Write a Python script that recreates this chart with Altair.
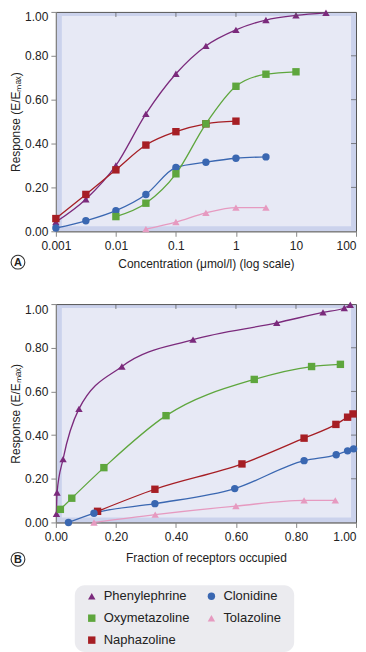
import altair as alt
import pandas as pd

# ---------------- data ----------------
drugs = ["Phenylephrine", "Clonidine", "Oxymetazoline", "Tolazoline", "Naphazoline"]
drug_colors = ["#7b2a7c", "#3a67b1", "#5ea63d", "#e69ac0", "#a61e24"]
drug_shapes = ["triangle-up", "circle", "square", "triangle-up", "square"]
legend_col = [0, 1, 0, 1, 0]
legend_row = [0, 0, 1, 1, 2]

# Panel A: concentration (umol/l) vs response
conc_phen = [0.001, 0.00316, 0.01, 0.0316, 0.1, 0.316, 1, 3.16, 10, 31.6]
resp_phen = [0.042, 0.146, 0.30, 0.535, 0.718, 0.845, 0.918, 0.963, 0.984, 0.996]
conc_naph = [0.001, 0.00316, 0.01, 0.0316, 0.1, 0.316, 1]
resp_naph = [0.058, 0.168, 0.28, 0.393, 0.454, 0.49, 0.502]
conc_clon = [0.001, 0.00316, 0.01, 0.0316, 0.1, 0.316, 1, 3.16]
resp_clon = [0.015, 0.048, 0.094, 0.168, 0.291, 0.315, 0.333, 0.339]
conc_oxy = [0.01, 0.0316, 0.1, 0.316, 1, 3.16, 10]
resp_oxy = [0.067, 0.128, 0.262, 0.49, 0.661, 0.716, 0.727]
conc_tol = [0.0316, 0.1, 0.316, 1, 3.16]
resp_tol = [0.01, 0.042, 0.084, 0.108, 0.108]

# Panel B: fraction of receptors occupied vs response
frac_phen = [0.002, 0.004, 0.024, 0.077, 0.22, 0.457, 0.736, 0.89, 0.961, 0.981]
respb_phen = [0.04, 0.137, 0.29, 0.52, 0.714, 0.837, 0.914, 0.962, 0.982, 0.997]
frac_oxy = [0.015, 0.053, 0.16, 0.367, 0.661, 0.852, 0.948]
respb_oxy = [0.06, 0.111, 0.251, 0.489, 0.655, 0.714, 0.724]
frac_naph = [0.139, 0.33, 0.62, 0.827, 0.933, 0.972, 0.99]
respb_naph = [0.051, 0.152, 0.268, 0.386, 0.449, 0.482, 0.497]
frac_clon = [0.042, 0.127, 0.33, 0.596, 0.827, 0.934, 0.972, 0.992]
respb_clon = [0.0, 0.042, 0.086, 0.155, 0.283, 0.31, 0.328, 0.337]
frac_tol = [0.127, 0.331, 0.6, 0.827, 0.931]
respb_tol = [0.0, 0.036, 0.075, 0.101, 0.101]

conc_ticks = [0.001, 0.01, 0.1, 1, 10, 100]
frac_ticks = [0.0, 0.2, 0.4, 0.6, 0.8, 1.0]
resp_ticks = [0.0, 0.2, 0.4, 0.6, 0.8, 1.0]


def frame(pairs):
    rows = []
    for name, xs, ys in pairs:
        for xv, yv in zip(xs, ys):
            rows.append({"drug": name, "x": xv, "y": yv})
    return pd.DataFrame(rows)


df_a = frame([
    ("Phenylephrine", conc_phen, resp_phen),
    ("Naphazoline", conc_naph, resp_naph),
    ("Clonidine", conc_clon, resp_clon),
    ("Oxymetazoline", conc_oxy, resp_oxy),
    ("Tolazoline", conc_tol, resp_tol),
])
df_b = frame([
    ("Phenylephrine", frac_phen, respb_phen),
    ("Oxymetazoline", frac_oxy, respb_oxy),
    ("Naphazoline", frac_naph, respb_naph),
    ("Clonidine", frac_clon, respb_clon),
    ("Tolazoline", frac_tol, respb_tol),
])
df_leg = pd.DataFrame({"drug": drugs, "col": legend_col, "row": legend_row})

W = 301
FONT = "Liberation Sans"

color_scale = alt.Scale(domain=drugs, range=drug_colors)
shape_scale = alt.Scale(domain=drugs, range=drug_shapes)

y_label_baseline = {"condition": {"test": "datum.value == 1", "value": "top"}, "value": "middle"}


def panel(df, H, xscale, xaxis, xticks, letter, letter_dy):
    y_enc = alt.Y("y:Q", scale=alt.Scale(domain=[0, 1]),
                  axis=alt.Axis(values=resp_ticks, format=".2f",
                                title="Response (E/Eₘₐₓ)",
                                labelBaseline=y_label_baseline,
                                titlePadding=2, tickSize=5, labelPadding=3,
                                tickColor="#888", domainColor="#888"))
    x_enc = alt.X("x:Q", scale=xscale, axis=xaxis)
    base = alt.Chart(df)

    one = pd.DataFrame({"k": [0]})
    band = alt.Chart(one).mark_rect(color="#e7e9f5").encode(
        x=alt.value(6), x2=alt.value(W - 5), y=alt.value(4), y2=alt.value(H - 5))

    lines = base.mark_line(interpolate="monotone", strokeWidth=1.3).encode(
        x=x_enc, y=y_enc,
        stroke=alt.Stroke("drug:N", scale=color_scale, legend=None),
        detail="drug:N")
    pts = base.mark_point(filled=True, opacity=1, size=55).encode(
        x=alt.X("x:Q"), y=alt.Y("y:Q"),
        color=alt.Color("drug:N", scale=color_scale, legend=None),
        shape=alt.Shape("drug:N", scale=shape_scale, legend=None))

    # inward ticks on the top and right frame
    top_t = alt.Chart(pd.DataFrame({"x": xticks[1:-1]})).mark_tick(
        orient="vertical", size=5, thickness=1, color="#555").encode(
        x=alt.X("x:Q"), y=alt.value(2.5))
    right_t = alt.Chart(pd.DataFrame({"y": resp_ticks[1:-1]})).mark_tick(
        orient="horizontal", size=5, thickness=1, color="#555").encode(
        y=alt.Y("y:Q"), x=alt.value(W - 2.5))

    circ = alt.Chart(one).mark_point(shape="circle", size=190, filled=False,
                                     stroke="#333", strokeWidth=1.1, fill="white",
                                     fillOpacity=1).encode(
        x=alt.value(-38), y=alt.value(H + letter_dy))
    txt = alt.Chart(one).mark_text(text=letter, fontSize=11, fontWeight="bold",
                                   font=FONT, color="#222", baseline="middle",
                                   align="center").encode(
        x=alt.value(-38), y=alt.value(H + letter_dy + 0.5))

    return alt.layer(band, lines, pts, top_t, right_t, circ, txt).properties(
        width=W, height=H)


def last_right(v):
    return {"condition": {"test": f"datum.value == {v}", "value": "right"}, "value": "center"}


axis_a = alt.Axis(values=conc_ticks, format="~g", labelFlush=False,
                  labelAlign=last_right(100),
                  title="Concentration (μmol/l) (log scale)", tickSize=5,
                  labelPadding=4, titlePadding=7, tickColor="#888", domainColor="#888")
axis_b = alt.Axis(values=frac_ticks, format=".2f", labelFlush=False,
                  labelAlign=last_right(1),
                  title="Fraction of receptors occupied", tickSize=5,
                  labelPadding=4, titlePadding=10, tickColor="#888", domainColor="#888")

chart_a = panel(df_a, 220, alt.Scale(type="log", domain=[0.001, 100]), axis_a,
                conc_ticks, "A", 31)
chart_b = panel(df_b, 219, alt.Scale(domain=[0, 1]), axis_b, frac_ticks, "B", 37)

# ---- manual legend panel ----
LH = 67
leg_one = pd.DataFrame({"k": [0]})
leg_box = alt.Chart(leg_one).mark_rect(color="#ebebef", cornerRadius=10).encode(
    x=alt.value(19), x2=alt.value(239), y=alt.value(0), y2=alt.value(LH))
lx = alt.X("col:Q", scale=alt.Scale(domain=[0, 1], range=[36, 156]), axis=None)
ly = alt.Y("row:Q", scale=alt.Scale(domain=[0, 2], range=[11, 55]), axis=None)
leg_sym = alt.Chart(df_leg).mark_point(filled=True, opacity=1, size=55).encode(
    x=lx, y=ly,
    color=alt.Color("drug:N", scale=color_scale, legend=None),
    shape=alt.Shape("drug:N", scale=shape_scale, legend=None))
leg_txt = alt.Chart(df_leg).mark_text(align="left", baseline="middle", dx=12,
                                      fontSize=13, font=FONT, color="#222").encode(
    x=lx, y=ly, text="drug:N")
legend_panel = alt.layer(leg_box, leg_sym, leg_txt).properties(
    width=W, height=LH, view=alt.ViewBackground(fill=None, stroke=None))

plots = alt.vconcat(chart_a, chart_b, spacing=28)
chart = alt.vconcat(plots, legend_panel, spacing=16).properties(
    padding={"left": 0, "top": 0, "right": 0, "bottom": 0}
).configure_view(
    fill="#cbd2ec", stroke="#555", strokeWidth=1
).configure_axis(
    labelFont=FONT, titleFont=FONT, labelFontSize=12, titleFontSize=12,
    labelColor="#222", titleColor="#222", titleFontWeight="normal", grid=False
)

chart.save("out.html", embed_options={"renderer": "svg", "actions": False})
